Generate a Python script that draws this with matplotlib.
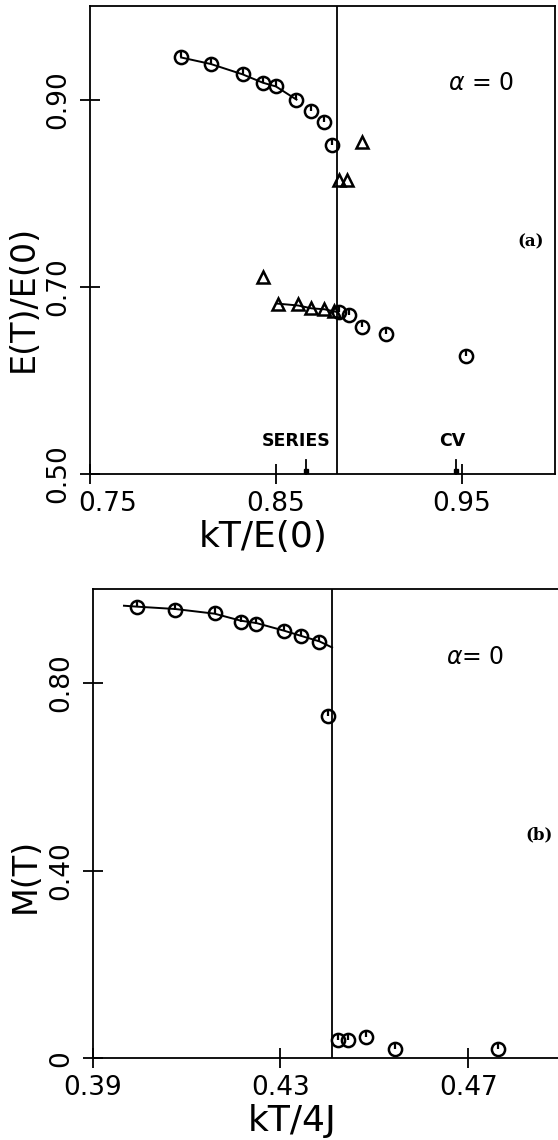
import numpy as np
import matplotlib
matplotlib.use("Agg")
import matplotlib.pyplot as plt
from matplotlib.transforms import ScaledTranslation

# ---- panel (a): energy vs temperature ----
a_circ_x = [0.799, 0.815, 0.832, 0.843, 0.850, 0.861, 0.869, 0.876, 0.880,
            0.884, 0.889, 0.896, 0.909, 0.952]
a_circ_y = [0.945, 0.938, 0.927, 0.918, 0.914, 0.900, 0.888, 0.876, 0.851,
            0.673, 0.670, 0.657, 0.650, 0.626]
a_tri_x = [0.896, 0.884, 0.888, 0.843, 0.851, 0.862, 0.869, 0.876, 0.881]
a_tri_y = [0.855, 0.814, 0.814, 0.711, 0.682, 0.682, 0.677, 0.676, 0.674]
a_fit_hi_x = [0.799, 0.815, 0.832, 0.843, 0.850, 0.861]
a_fit_hi_y = [0.945, 0.938, 0.927, 0.918, 0.914, 0.900]
a_fit_lo_x = [0.851, 0.862, 0.869, 0.876, 0.883]
a_fit_lo_y = [0.682, 0.680, 0.677, 0.676, 0.673]
a_tc = 0.883
a_series = 0.866
a_cv = 0.947
a_xticks = [0.75, 0.85, 0.95]
a_xlabels = ["0.75", "0.85", "0.95"]
a_yticks = [0.50, 0.70, 0.90]
a_ylabels = ["0.50", "0.70", "0.90"]

# ---- panel (b): magnetisation vs temperature ----
b_circ_x = [0.3995, 0.4076, 0.4160, 0.4216, 0.4249, 0.4307, 0.4343, 0.4383, 0.4402,
            0.4423, 0.4443, 0.4483, 0.4544, 0.4764]
b_circ_y = [0.963, 0.956, 0.949, 0.931, 0.927, 0.911, 0.900, 0.888, 0.730,
            0.040, 0.039, 0.046, 0.019, 0.019]
b_fit_x = [0.3967, 0.3995, 0.4076, 0.4160, 0.4216, 0.4249, 0.4307, 0.4343, 0.4383, 0.441]
b_fit_y = [0.965, 0.963, 0.958, 0.948, 0.933, 0.928, 0.912, 0.901, 0.889, 0.876]
b_tc = 0.441
b_xticks = [0.39, 0.43, 0.47]
b_xlabels = ["0.39", "0.43", "0.47"]
b_yticks = [0.0, 0.40, 0.80]
b_ylabels = ["0", "0.40", "0.80"]

plt.rcParams['font.family'] = ['DejaVu Sans']

fig = plt.figure(figsize=(5.58, 11.4), dpi=100)
ax1 = fig.add_axes([90 / 558, 1 - 474 / 1140, 465 / 558, 468 / 1140])
ax2 = fig.add_axes([92.5 / 558, 1 - 1058.3 / 1140, 516.7 / 558, 469 / 1140])

tick_px = 20


def style_axes(ax, xt, xl, yt, yl):
    for s in ax.spines.values():
        s.set_linewidth(1.3)
    ax.set_xticks(xt)
    ax.set_xticklabels(xl)
    ax.set_yticks(yt)
    ax.set_yticklabels(yl)
    ax.tick_params(direction="inout", length=tick_px * 0.72, width=1.3,
                   labelsize=19, pad=5)
    ax.tick_params(axis="y", pad=6)
    for lab in ax.get_yticklabels():
        lab.set_rotation(90)
        lab.set_va("center")


def draw_marks(ax, cx, cy):
    ax.plot(cx, cy, "o", mfc="none", mec="k", mew=1.8, ms=9.5, clip_on=False)
    ax.plot(cx, cy, linestyle="none", marker=[(0, 0), (0, 1)], mec="k",
            mew=1.6, ms=9.5, clip_on=False)


# panel (a)
style_axes(ax1, a_xticks, a_xlabels, a_yticks, a_ylabels)
ax1.set_xlim(0.75, 1.0)
ax1.set_ylim(0.5, 1.0)
ax1.axvline(a_tc, color="k", lw=1.3)
ax1.plot(a_fit_hi_x, a_fit_hi_y, "k-", lw=1.4)
ax1.plot(a_fit_lo_x, a_fit_lo_y, "k-", lw=1.4)
draw_marks(ax1, a_circ_x, a_circ_y)
ax1.plot(a_tri_x, a_tri_y, "^", mfc="none", mec="k", mew=1.8, ms=9)

for xv in [a_series, a_cv]:
    ax1.plot([xv, xv], [0.5, 0.515], "k-", lw=1.3, clip_on=False)
    ax1.plot([xv], [0.503], "ks", ms=3.5, clip_on=False)
ax1.text(0.861, 0.535, "SERIES", ha="center", va="center", fontsize=12.5,
         fontweight="bold")
ax1.text(0.945, 0.535, "CV", ha="center", va="center", fontsize=12.5,
         fontweight="bold")

ax1.text(0.96, 0.918, r"$\alpha$ = 0", ha="center", va="center", fontsize=17)
ax1.text(0.987, 0.748, "(a)", ha="center", va="center", fontsize=12,
         fontweight="bold", family="DejaVu Serif")

ax1.set_xlabel("kT/E(0)", fontsize=26)
ax1.xaxis.set_label_coords(0.372, -0.135)
ax1.xaxis.label.set_va("center")
ax1.set_ylabel("E(T)/E(0)", fontsize=24)
ax1.yaxis.set_label_coords(-0.143, 0.376)
ax1.yaxis.label.set_va("center")

# nudge first x label clear of the rotated 0.50
first = ax1.get_xticklabels()[0]
first.set_transform(first.get_transform() + ScaledTranslation(0.18, 0, fig.dpi_scale_trans))

# panel (b)
style_axes(ax2, b_xticks, b_xlabels, b_yticks, b_ylabels)
ax2.set_xlim(0.39, 0.50)
ax2.set_ylim(0.0, 1.0)
ax2.axvline(b_tc, color="k", lw=1.3)
ax2.plot(b_fit_x, b_fit_y, "k-", lw=1.4)
draw_marks(ax2, b_circ_x, b_circ_y)

ax2.text(0.4714, 0.856, r"$\alpha$= 0", ha="center", va="center", fontsize=17)
ax2.text(0.485, 0.476, "(b)", ha="center", va="center", fontsize=12,
         fontweight="bold", family="DejaVu Serif")

ax2.set_xlabel("kT/4J", fontsize=26)
ax2.xaxis.set_label_coords(0.387, -0.134)
ax2.xaxis.label.set_va("center")
ax2.set_ylabel("M(T)", fontsize=24)
ax2.yaxis.set_label_coords(-0.13, 0.389)
ax2.yaxis.label.set_va("center")

fig.savefig("out.png", dpi=100)
